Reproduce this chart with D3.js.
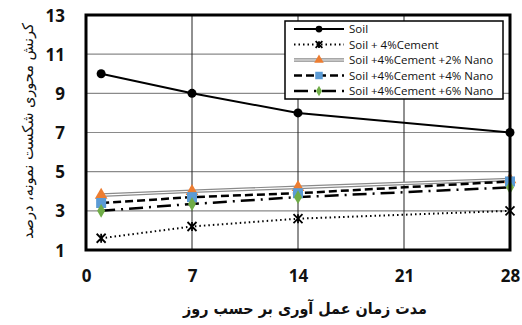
<!DOCTYPE html>
<html><head><meta charset="utf-8">
<script src="https://cdn.jsdelivr.net/npm/d3@7"></script>
<style>body{margin:0;background:#fff}svg{display:block}</style>
</head><body>
<svg id="c" width="522" height="325"></svg>
<script>
const days = [1, 7, 14, 28];
const xTicks = [0, 7, 14, 21, 28];
const yTicks = [1, 3, 5, 7, 9, 11, 13];
const seriesNames = ["Soil", "Soil + 4%Cement", "Soil +4%Cement +2% Nano", "Soil +4%Cement +4% Nano", "Soil +4%Cement +6% Nano"];
const soil = [10.0, 9.0, 8.0, 7.0];
const cement4 = [1.6, 2.2, 2.6, 3.0];
const nano2 = [3.8, 4.0, 4.2, 4.6];
const nano4 = [3.4, 3.7, 3.9, 4.5];
const nano6 = [3.0, 3.35, 3.7, 4.2];
const xTitle = "مدت زمان عمل آوری بر حسب روز";
const yTitle = "کرنش محوری شکست نمونه، درصد";

const svg = d3.select("#c");
const L = 86, R = 510, T = 15, B = 250;
const x = d3.scaleLinear().domain([0, 28]).range([L, R]);
const y = d3.scaleLinear().domain([1, 13]).range([B, T]);

// gridlines
svg.append("g").selectAll("line").data(yTicks.filter(d => d > 1 && d < 13)).join("line")
  .attr("x1", L).attr("x2", R).attr("y1", d => y(d)).attr("y2", d => y(d))
  .attr("stroke", "#8a8a8a").attr("stroke-width", 1.2);
svg.append("g").selectAll("line").data(xTicks.filter(d => d > 0 && d < 28)).join("line")
  .attr("y1", T).attr("y2", B).attr("x1", d => x(d)).attr("x2", d => x(d))
  .attr("stroke", "#222").attr("stroke-width", 1);

// axes labels via d3 axes
const tickFont = "'Open Sans', sans-serif";
const ya = svg.append("g").attr("transform", `translate(${L - 21},0)`)
  .call(d3.axisLeft(y).tickValues(yTicks).tickSize(0).tickPadding(0).tickFormat(d3.format("d")));
ya.select(".domain").remove();
ya.selectAll("text").attr("font-family", tickFont).attr("font-weight", "bold").attr("font-size", 17).attr("fill", "#111").attr("dy", "0.36em");
const xa = svg.append("g").attr("transform", `translate(0,${B + 20})`)
  .call(d3.axisBottom(x).tickValues(xTicks).tickSize(0).tickPadding(0).tickFormat(d3.format("d")));
xa.select(".domain").remove();
xa.selectAll("text").attr("font-family", tickFont).attr("font-weight", "bold").attr("font-size", 17).attr("fill", "#111").attr("dy", "0.71em");

// titles
svg.append("text").attr("x", 305).attr("y", 314).attr("text-anchor", "middle")
  .attr("font-family", "'DejaVu Sans', sans-serif").attr("font-weight", "bold").attr("font-size", 16)
  .attr("textLength", 244).attr("lengthAdjust", "spacingAndGlyphs")
  .attr("fill", "#111").attr("direction", "rtl").text(xTitle);
svg.append("text").attr("transform", "translate(33,131) rotate(-90)").attr("text-anchor", "middle")
  .attr("font-family", "'DejaVu Sans', sans-serif").attr("font-size", 15)
  .attr("textLength", 216).attr("lengthAdjust", "spacingAndGlyphs")
  .attr("fill", "#111").attr("direction", "rtl").text(yTitle);

const line = d3.line().x((d, i) => x(days[i])).y(d => y(d));

const styles = [
  {data: soil, stroke: "#000", width: 2, dash: null, marker: "circle"},
  {data: cement4, stroke: "#000", width: 2, dash: "1.5,3", marker: "star"},
  {data: nano2, stroke: "#8a8a8a", width: 3.6, dash: null, marker: "triangle", inner: "#fff"},
  {data: nano4, stroke: "#000", width: 2.5, dash: "8,4", marker: "square"},
  {data: nano6, stroke: "#000", width: 2.5, dash: "14,6,2,6", marker: "diamond"}
];

function drawMarker(g, type, cx, cy, scale) {
  scale = scale || 1;
  if (type === "circle") g.append("circle").attr("cx", cx).attr("cy", cy).attr("r", 4.5 * scale).attr("fill", "#000");
  else if (type === "star") {
    const s = 4.5 * scale;
    g.append("path").attr("d", `M${cx - s},${cy - s}L${cx + s},${cy + s}M${cx - s},${cy + s}L${cx + s},${cy - s}M${cx},${cy - s}L${cx},${cy + s}`)
      .attr("stroke", "#000").attr("stroke-width", 1.8).attr("fill", "none");
  }
  else if (type === "triangle") g.append("path").attr("transform", `translate(${cx},${cy})`)
    .attr("d", d3.symbol(d3.symbolTriangle, 70 * scale * scale)()).attr("fill", "#ED7D31");
  else if (type === "square") g.append("rect").attr("x", cx - 5 * scale).attr("y", cy - 5 * scale)
    .attr("width", 10 * scale).attr("height", 10 * scale).attr("fill", "#5B9BD5");
  else if (type === "diamond") g.append("path").attr("transform", `translate(${cx},${cy})`)
    .attr("d", d3.symbol(d3.symbolDiamond, 55 * scale * scale)()).attr("fill", "#70AD47");
}

const plot = svg.append("g");
styles.forEach(s => {
  plot.append("path").attr("d", line(s.data)).attr("fill", "none").attr("stroke", s.stroke)
    .attr("stroke-width", s.width).attr("stroke-dasharray", s.dash);
  if (s.inner) plot.append("path").attr("d", line(s.data)).attr("fill", "none").attr("stroke", s.inner).attr("stroke-width", 1.2);
});
styles.forEach(s => {
  s.data.forEach((v, i) => drawMarker(plot, s.marker, x(days[i]), y(v)));
});

// frame
svg.append("rect").attr("x", L).attr("y", T).attr("width", R - L).attr("height", B - T)
  .attr("fill", "none").attr("stroke", "#000").attr("stroke-width", 3);

// legend
const lg = svg.append("g");
lg.append("rect").attr("x", 285).attr("y", 21).attr("width", 218).attr("height", 78)
  .attr("fill", "#fff").attr("stroke", "#000").attr("stroke-width", 1.5);
seriesNames.forEach((n, i) => {
  const s = styles[i];
  const yy = 29 + i * 15.5;
  lg.append("line").attr("x1", 294).attr("x2", 344).attr("y1", yy).attr("y2", yy)
    .attr("stroke", s.stroke).attr("stroke-width", s.width).attr("stroke-dasharray", s.dash);
  if (s.inner) lg.append("line").attr("x1", 294).attr("x2", 344).attr("y1", yy).attr("y2", yy)
    .attr("stroke", s.inner).attr("stroke-width", 1.2);
  drawMarker(lg, s.marker, 319, yy, 0.75);
  lg.append("text").attr("x", 349).attr("y", yy).attr("dy", "0.35em")
    .attr("font-family", tickFont).attr("font-size", 11.5).attr("fill", "#111").text(n);
});
</script>
</body></html>
